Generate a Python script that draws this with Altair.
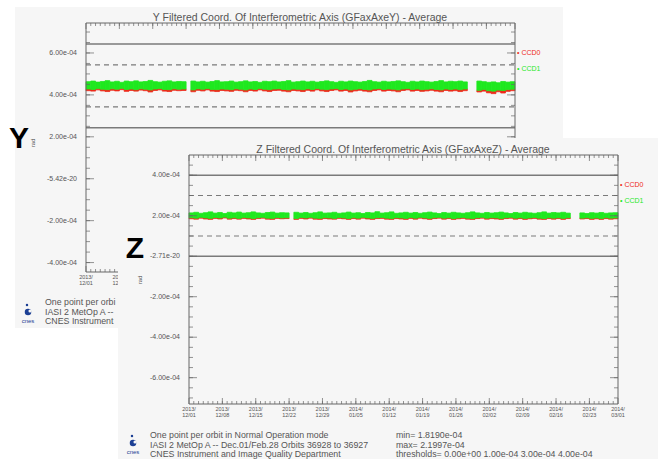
import altair as alt
import pandas as pd

# ---------------------------------------------------------------------------
# Daily envelopes of the per-orbit averages, in micro-radians.
# Index 0 = 2013/12/01 ... 89 = 2014/02/28 ; None = no data that day.
# ---------------------------------------------------------------------------
Y_ccd1_hi = [463, 466, 461, 464, 468, 462, 465, 460, 466, 463,
             467, 462, 464, 469, 463, 461, 465, 467, 462, 464,
             463, None, 466, 462, 465, 461, 464, 468, 462, 463,
             466, 461, 463, 467, 462, 464, 460, 465, 463, 466,
             462, 464, 468, 461, 463, 466, 462, 465, 461, 464,
             467, 463, 460, 465, 462, 466, 463, 461, 464, 469,
             463, 461, 465, 462, 464, 467, 463, 460, 465, 462,
             466, 463, 461, 464, 468, 462, 465, 463, 466, 462,
             None, None, 466, 463, 460, 462, 458, 464, 461, 463]
Y_ccd1_lo = [428, 426, 430, 427, 425, 429, 427, 431, 426, 428,
             425, 429, 427, 424, 428, 430, 426, 425, 429, 427,
             428, None, 424, 429, 427, 430, 426, 425, 428, 427,
             425, 429, 427, 424, 428, 426, 430, 427, 425, 428,
             429, 426, 424, 428, 427, 425, 429, 426, 430, 427,
             425, 428, 430, 426, 428, 424, 427, 429, 426, 424,
             428, 430, 426, 428, 427, 424, 428, 430, 426, 428,
             425, 427, 429, 426, 424, 428, 426, 428, 425, 428,
             None, None, 422, 426, 420, 418, 423, 421, 425, 427]
Y_ccd0_lo = [420, 418, 424, 419, 416, 422, 419, 425, 417, 421,
             418, 423, 420, 414, 421, 424, 418, 416, 422, 420,
             421, None, 415, 422, 419, 424, 418, 416, 421, 419,
             417, 422, 420, 415, 421, 418, 424, 419, 416, 421,
             422, 418, 415, 421, 419, 416, 422, 418, 424, 419,
             416, 421, 424, 418, 421, 414, 419, 422, 418, 415,
             421, 424, 418, 421, 419, 415, 421, 424, 418, 421,
             417, 419, 422, 418, 415, 421, 418, 420, 416, 420,
             None, None, 414, 418, 410, 406, 415, 409, 417, 420]

Z_ccd1_hi = [214, 217, 212, 215, 219, 213, 216, 211, 217, 214,
             218, 213, 215, 219, 214, 212, 216, 218, 213, 215,
             214, None, 217, 213, 216, 212, 215, 219, 213, 214,
             217, 212, 214, 218, 213, 215, 211, 216, 214, 219.97,
             213, 215, 219, 212, 214, 217, 213, 216, 212, 215,
             218, 214, 211, 216, 213, 217, 214, 212, 215, 219,
             214, 212, 216, 213, 215, 218, 214, 211, 216, 213,
             217, 214, 212, 215, 219, 213, 216, 214, 217, 213,
             None, None, 214, 211, 215, 213, 216, 212, 214, 215]
Z_ccd1_lo = [190, 188, 192, 189, 187, 191, 189, 193, 188, 190,
             187, 191, 189, 186, 190, 192, 188, 187, 191, 189,
             190, None, 186, 191, 189, 192, 188, 187, 190, 189,
             187, 191, 189, 186, 190, 188, 192, 189, 187, 190,
             191, 188, 186, 190, 189, 187, 191, 188, 192, 189,
             187, 190, 192, 188, 190, 186, 189, 191, 188, 186,
             190, 192, 188, 190, 189, 186, 190, 192, 188, 190,
             187, 189, 191, 188, 186, 190, 188, 190, 187, 190,
             None, None, 188, 190, 187, 189, 186, 190, 188, 189]
Z_ccd0_lo = [185, 183, 188, 184, 182, 187, 184, 189, 183, 186,
             183, 187, 184, 181.9, 186, 188, 183, 182, 187, 185,
             186, None, 182, 187, 184, 188, 183, 182, 186, 184,
             183, 187, 185, 182, 186, 183, 188, 184, 182, 186,
             187, 183, 182, 186, 184, 182, 187, 183, 188, 185,
             182, 186, 188, 183, 186, 182, 185, 187, 183, 182,
             186, 188, 183, 186, 184, 182, 186, 188, 183, 186,
             182, 185, 187, 183, 182, 186, 183, 186, 182, 186,
             None, None, 184, 186, 182, 185, 182, 186, 183, 185]

# Weekly date ticks (day offsets from 2013/12/01)
week_days = [0, 7, 14, 21, 28, 35, 42, 49, 56, 63, 70, 77, 84, 90]
week_year = ["2013/"] * 5 + ["2014/"] * 9
week_md = ["12/01", "12/08", "12/15", "12/22", "12/29", "01/05", "01/12",
           "01/19", "01/26", "02/02", "02/09", "02/16", "02/23", "03/01"]

# Value axis labels (micro-radians -> printed text)
Y_major = [600, 400, 200, 0, -200, -400]
Y_major_txt = ["6.00e-04", "4.00e-04", "2.00e-04", "-5.42e-20", "-2.00e-04", "-4.00e-04"]
Z_major = [400, 200, 0, -200, -400, -600]
Z_major_txt = ["4.00e-04", "2.00e-04", "-2.71e-20", "-2.00e-04", "-4.00e-04", "-6.00e-04"]

Y_thresholds = [243, 343, 543, 643]
Z_thresholds = [0, 100, 300, 400]

FOOTER = ["One point per orbit in Normal Operation mode",
          "IASI 2 MetOp A -- Dec.01/Feb.28 Orbits 36928 to 36927",
          "CNES Instrument and Image Quality Department"]
STATS = ["min= 1.8190e-04", "max= 2.1997e-04",
         "thresholds= 0.00e+00 1.00e-04 3.00e-04 4.00e-04"]

URAD = 1e-6
RED = "#ee2a1a"
GREEN = "#1fe81f"
INK = "#555555"
PANEL_BG = "#f6f6f6"
FONT = "Liberation Sans"


def band(lo, hi):
    rows = [{"d": d, "d2": d + 1, "lo": l * URAD, "hi": h * URAD}
            for d, (l, h) in enumerate(zip(lo, hi)) if l is not None and h is not None]
    return pd.DataFrame(rows)


def text_at(txt, x, y, **kw):
    style = dict(font=FONT, color=INK, fontSize=8, align="left", baseline="middle")
    style.update(kw)
    return alt.Chart(pd.DataFrame({"t": [txt]})).mark_text(**style).encode(
        x=alt.value(x), y=alt.value(y), text="t:N")


def cnes_logo(x, y):
    dot = alt.Chart(pd.DataFrame({"k": [0]})).mark_point(
        filled=True, shape="circle", size=42, color="#1c3f94", opacity=1).encode(
        x=alt.value(x), y=alt.value(y))
    tip = alt.Chart(pd.DataFrame({"k": [0]})).mark_point(
        filled=True, shape="circle", size=6, color="#1c3f94", opacity=1).encode(
        x=alt.value(x - 1), y=alt.value(y - 7))
    notch = alt.Chart(pd.DataFrame({"k": [0]})).mark_point(
        filled=True, shape="circle", size=10, color=PANEL_BG, opacity=1).encode(
        x=alt.value(x + 2), y=alt.value(y - 1))
    word = text_at("cnes", x, y + 9, fontSize=6, color="#1c3f94", align="center")
    return [dot, tip, notch, word]


def panel(cfg):
    xs = alt.Scale(domain=[0, 90], range=cfg["xr"], nice=False, zero=False)
    ys = alt.Scale(domain=[v * URAD for v in cfg["dom"]], range=cfg["yr"],
                   nice=False, zero=False)

    def X(f):
        return alt.X(f, type="quantitative", scale=xs, axis=None)

    def Y(f):
        return alt.Y(f, type="quantitative", scale=ys, axis=None)

    lo_v, hi_v = cfg["dom"][0] * URAD, cfg["dom"][1] * URAD
    one = pd.DataFrame({"x0": [0], "x1": [90], "lo": [lo_v], "hi": [hi_v]})

    layers = []
    bx0, bx1, by0, by1 = cfg["bg"]
    layers.append(alt.Chart(pd.DataFrame({"k": [0]})).mark_rect(color=PANEL_BG).encode(
        x=alt.value(bx0), x2=alt.value(bx1), y=alt.value(by0), y2=alt.value(by1)))

    # data: CCD0 (red) below, CCD1 (green) on top
    red = band(cfg["ccd0_lo"], cfg["ccd1_lo"])
    green = band(cfg["ccd1_lo"], cfg["ccd1_hi"])
    layers.append(alt.Chart(red).mark_rect(color=RED, stroke=RED, strokeWidth=0.8).encode(
        x=X("d"), x2=alt.X2("d2"), y=Y("lo"), y2=alt.Y2("hi")))
    layers.append(alt.Chart(green).mark_rect(color=GREEN, stroke=GREEN, strokeWidth=0.8).encode(
        x=X("d"), x2=alt.X2("d2"), y=Y("lo"), y2=alt.Y2("hi")))

    # threshold lines
    thr = cfg["thr"]
    solid = pd.DataFrame({"x0": 0, "x1": 90, "v": [thr[0] * URAD, thr[3] * URAD]})
    dashed = pd.DataFrame({"x0": 0, "x1": 90, "v": [thr[1] * URAD, thr[2] * URAD]})
    layers.append(alt.Chart(solid).mark_rule(color="#7a7a7a", strokeWidth=1.6).encode(
        x=X("x0"), x2=alt.X2("x1"), y=Y("v")))
    layers.append(alt.Chart(dashed).mark_rule(color="#7a7a7a", strokeWidth=1.2,
                                              strokeDash=[5, 4]).encode(
        x=X("x0"), x2=alt.X2("x1"), y=Y("v")))

    # frame
    layers.append(alt.Chart(one).mark_rect(fillOpacity=0, stroke="#666666",
                                           strokeWidth=1).encode(
        x=X("x0"), x2=alt.X2("x1"), y=Y("lo"), y2=alt.Y2("hi")))

    # value-axis ticks, left and right, pointing inward
    minor = [v * URAD for v in cfg["minor"]]
    major = [v * URAD for v in cfg["major"]]
    for side, sgn in ((0, 1), (90, -1)):
        layers.append(alt.Chart(pd.DataFrame({"x": side, "v": minor})).mark_tick(
            orient="horizontal", size=4, thickness=1, color="#666666",
            xOffset=2 * sgn).encode(x=X("x"), y=Y("v")))
        layers.append(alt.Chart(pd.DataFrame({"x": side, "v": major})).mark_tick(
            orient="horizontal", size=8, thickness=1, color="#666666",
            xOffset=4 * sgn).encode(x=X("x"), y=Y("v")))

    # date ticks, bottom and top, pointing inward
    daily = list(range(1, 90))
    for edge, sgn in ((lo_v, -1), (hi_v, 1)):
        layers.append(alt.Chart(pd.DataFrame({"d": daily, "v": edge})).mark_tick(
            orient="vertical", size=3, thickness=1, color="#666666",
            yOffset=1.5 * sgn).encode(x=X("d"), y=Y("v")))
        layers.append(alt.Chart(pd.DataFrame({"d": week_days, "v": edge})).mark_tick(
            orient="vertical", size=6, thickness=1, color="#666666",
            yOffset=3 * sgn).encode(x=X("d"), y=Y("v")))

    # value-axis labels
    layers.append(alt.Chart(pd.DataFrame({"x": 0, "v": major, "t": cfg["major_txt"]})).mark_text(
        font=FONT, fontSize=7, color=INK, align="right", baseline="middle", dx=-9).encode(
        x=X("x"), y=Y("v"), text="t:N"))

    # date labels (two lines)
    dl = pd.DataFrame({"d": week_days, "v": lo_v, "yy": week_year, "md": week_md})
    if cfg.get("date_count"):
        dl = dl.head(cfg["date_count"])
    layers.append(alt.Chart(dl).mark_text(font=FONT, fontSize=5.5, color=INK,
                                          align="center", baseline="middle", dy=5).encode(
        x=X("d"), y=Y("v"), text="yy:N"))
    layers.append(alt.Chart(dl).mark_text(font=FONT, fontSize=5.5, color=INK,
                                          align="center", baseline="middle", dy=11).encode(
        x=X("d"), y=Y("v"), text="md:N"))

    # title, legend, unit, footer
    tx, ty = cfg["title_xy"]
    layers.append(text_at(cfg["title"], tx, ty, fontSize=10.5, align="center"))
    lx, ly0, ly1 = cfg["legend"]
    layers.append(text_at("\u2022 CCD0", lx, ly0, fontSize=7, color=RED))
    layers.append(text_at("\u2022 CCD1", lx, ly1, fontSize=7, color=GREEN))
    ux, uy = cfg["unit_xy"]
    layers.append(text_at("rad", ux, uy, fontSize=6, angle=270, align="center"))
    fx, fy = cfg["footer_xy"]
    extra = {}
    if cfg.get("footer_limit"):
        # footer partly hidden behind the Z sheet: cut it at the sheet's edge
        extra = dict(limit=cfg["footer_limit"], ellipsis="\u200b")
    for i, line in enumerate(FOOTER):
        layers.append(text_at(line, fx, fy + 9.5 * i, fontSize=8.8, **extra))
    if cfg.get("stats_x"):
        for i, line in enumerate(STATS):
            layers.append(text_at(line, cfg["stats_x"], fy + 9.5 * i, fontSize=8.8))
    layers += cnes_logo(*cfg["logo_xy"])
    bl, blx, bly = cfg["badge"]
    layers.append(text_at(bl, blx, bly, fontSize=30, fontWeight="bold",
                          color="#000000", font="Liberation Sans", align="center"))
    return alt.layer(*layers)


y_panel = panel(dict(
    xr=[86, 515], yr=[272, 23], dom=[-445, 743],
    ccd0_lo=Y_ccd0_lo, ccd1_lo=Y_ccd1_lo, ccd1_hi=Y_ccd1_hi,
    thr=Y_thresholds, major=Y_major, major_txt=Y_major_txt,
    minor=list(range(-400, 701, 50)),
    bg=(15, 563, 7, 328), date_count=2,
    title="Y Filtered Coord. Of Interferometric Axis (GFaxAxeY) - Average",
    title_xy=(300, 18), legend=(517, 53, 69), unit_xy=(33, 143),
    footer_xy=(45, 302), footer_limit=72, logo_xy=(28, 312), badge=("Y", 19, 139),
))

z_panel = panel(dict(
    xr=[189, 618], yr=[404, 155], dom=[-730, 500],
    ccd0_lo=Z_ccd0_lo, ccd1_lo=Z_ccd1_lo, ccd1_hi=Z_ccd1_hi,
    thr=Z_thresholds, major=Z_major, major_txt=Z_major_txt,
    minor=list(range(-700, 451, 50)),
    bg=(118, 658, 138, 459),
    title="Z Filtered Coord. Of Interferometric Axis (GFaxAxeZ) - Average",
    title_xy=(403, 150), legend=(620, 185, 201), unit_xy=(140, 280),
    footer_xy=(150, 435), stats_x=396, logo_xy=(133, 443), badge=("Z", 135, 249),
))

chart = alt.layer(y_panel, z_panel).resolve_scale(
    x="independent", y="independent"
).properties(
    width=658, height=459,
    autosize=alt.AutoSizeParams(type="none"),
    padding=0, background="white",
).configure_view(stroke=None)

chart.save("out.html", embed_options={"renderer": "svg", "actions": False})
